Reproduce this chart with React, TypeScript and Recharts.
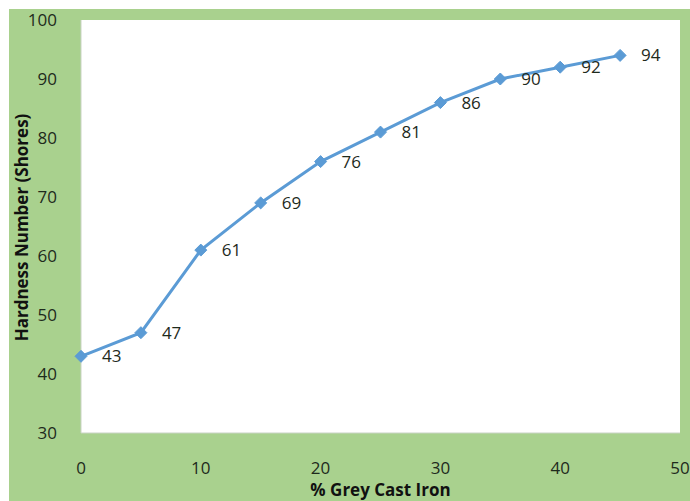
import { CartesianGrid, LabelList, Line, LineChart, XAxis, YAxis } from "recharts";

const greyCastIron = [0, 5, 10, 15, 20, 25, 30, 35, 40, 45];
const hardness = [43, 47, 61, 69, 76, 81, 86, 90, 92, 94];
const xTicks = [0, 10, 20, 30, 40, 50];
const yTicks = [30, 40, 50, 60, 70, 80, 90, 100];

const data = greyCastIron.map((pct, i) => ({ pct, hardness: hardness[i] }));

const FONT = "'Open Sans', sans-serif";
const BLUE = "#5b9bd5";

function Diamond(props: any) {
  const { cx, cy, index } = props;
  if (cx == null || cy == null) return null;
  const r = 6;
  return (
    <polygon
      key={index}
      points={`${cx},${cy - r} ${cx + r},${cy} ${cx},${cy + r} ${cx - r},${cy}`}
      fill={BLUE}
      stroke={BLUE}
    />
  );
}

export default function App() {
  return (
    <div
      style={{
        position: "fixed",
        left: 9,
        top: 9,
        width: 681,
        height: 492,
        background: "#a9d18e",
        fontFamily: FONT,
        overflow: "hidden"
      }}
    >
      <LineChart
        width={681}
        height={492}
        data={data}
        margin={{ top: 11, right: 10, bottom: 28, left: 0 }}
      >
        <CartesianGrid fill="#ffffff" stroke="none" />
        <XAxis
          dataKey="pct"
          type="number"
          domain={[0, 50]}
          ticks={xTicks}
          height={40}
          tickSize={0}
          tickMargin={29}
          axisLine={{ stroke: "#c9d3c4" }}
          tick={{ fill: "#1e2a1c", fontSize: 17, fontFamily: FONT }}
        />
        <YAxis
          type="number"
          domain={[30, 100]}
          ticks={yTicks}
          width={72}
          tickSize={0}
          tickMargin={24}
          axisLine={{ stroke: "#c9d3c4" }}
          tick={{ fill: "#1e2a1c", fontSize: 17, fontFamily: FONT }}
        />
        <Line
          dataKey="hardness"
          stroke={BLUE}
          strokeWidth={3}
          type="linear"
          dot={<Diamond />}
          activeDot={false}
          isAnimationActive={false}
        >
          <LabelList
            dataKey="hardness"
            position="right"
            offset={21}
            fill="#1e2a1c"
            fontSize={17}
            fontFamily={FONT}
          />
        </Line>
      </LineChart>
      <div
        style={{
          position: "absolute",
          left: 13,
          top: 218,
          width: 0,
          height: 0,
          display: "flex",
          alignItems: "center",
          justifyContent: "center"
        }}
      >
        <div
          style={{
            transform: "rotate(-90deg)",
            whiteSpace: "nowrap",
            fontWeight: 700,
            fontSize: 17,
            color: "#111"
          }}
        >
          Hardness Number (Shores)
        </div>
      </div>
      <div
        style={{
          position: "absolute",
          left: 72,
          width: 599,
          top: 471,
          textAlign: "center",
          fontWeight: 700,
          fontSize: 17,
          color: "#111",
          lineHeight: "20px"
        }}
      >
        % Grey Cast Iron
      </div>
    </div>
  );
}
